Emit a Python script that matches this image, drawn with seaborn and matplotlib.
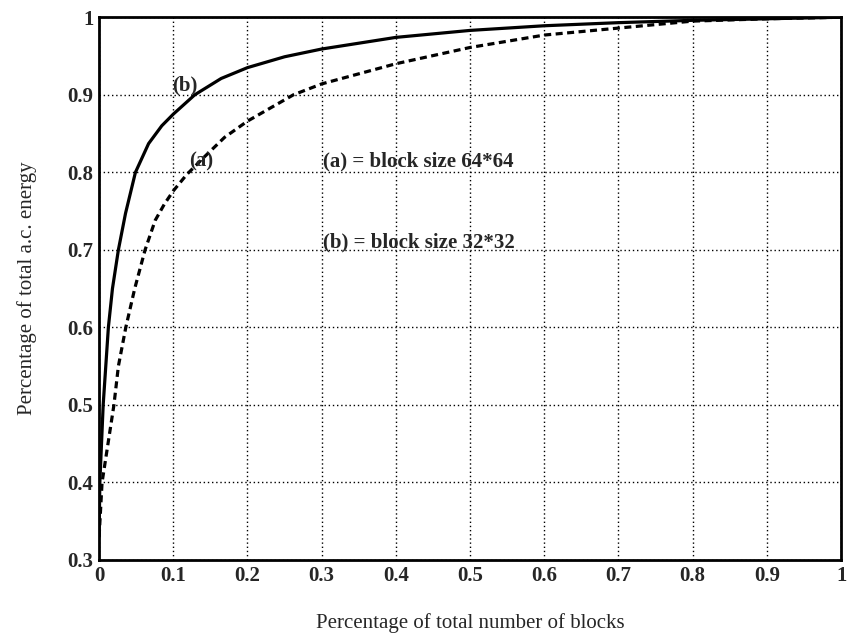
import matplotlib
matplotlib.use("Agg")
import matplotlib.pyplot as plt
import seaborn as sns
import pandas as pd

# Curve (b): block size 32*32 (solid)
x_b = [0.0, 0.001, 0.0055, 0.0125, 0.018, 0.026, 0.0356, 0.049, 0.0667, 0.0845, 0.1, 0.129,
       0.1645, 0.2, 0.25, 0.3, 0.4, 0.5, 0.6, 0.7, 0.8, 0.9, 1.0]
y_b = [0.33, 0.4, 0.5, 0.6, 0.65, 0.7, 0.747, 0.8, 0.837, 0.86, 0.875, 0.9,
       0.921, 0.935, 0.949, 0.959, 0.974, 0.983, 0.989, 0.993, 0.996, 0.998, 1.0]

# Curve (a): block size 64*64 (dashed)
x_a = [0.0, 0.004, 0.02, 0.026, 0.036, 0.048, 0.062, 0.0756, 0.088, 0.1, 0.118, 0.142, 0.169, 0.2,
       0.262, 0.3, 0.4, 0.5, 0.6, 0.7, 0.8, 0.9, 1.0]
y_a = [0.33, 0.4, 0.5, 0.55, 0.6, 0.65, 0.7, 0.738, 0.759, 0.776, 0.797, 0.82, 0.845, 0.866,
       0.9, 0.914, 0.94, 0.961, 0.977, 0.986, 0.995, 0.998, 1.0]

x_ticks = [0, 0.1, 0.2, 0.3, 0.4, 0.5, 0.6, 0.7, 0.8, 0.9, 1]
x_tick_labels = ["0", "0.1", "0.2", "0.3", "0.4", "0.5", "0.6", "0.7", "0.8", "0.9", "1"]
y_ticks = [0.3, 0.4, 0.5, 0.6, 0.7, 0.8, 0.9, 1]
y_tick_labels = ["0.3", "0.4", "0.5", "0.6", "0.7", "0.8", "0.9", "1"]

df_b = pd.DataFrame({"x": x_b, "y": y_b})
df_a = pd.DataFrame({"x": x_a, "y": y_a})

sns.set_style("white")
plt.rcParams["font.family"] = ["Liberation Serif", "DejaVu Serif"]

fig = plt.figure(figsize=(8.47, 6.38), dpi=100)
ax = fig.add_axes([0.117, 0.1223, 0.876, 0.8507])

sns.lineplot(data=df_b, x="x", y="y", ax=ax, color="black", linewidth=2.3, sort=False)
sns.lineplot(data=df_a, x="x", y="y", ax=ax, color="black", linewidth=2.3, sort=False,
             dashes=False, linestyle=(0, (2.2, 1.4)))

ax.set_xlim(0, 1)
ax.set_ylim(0.3, 1)
ax.set_xticks(x_ticks)
ax.set_xticklabels(x_tick_labels)
ax.set_yticks(y_ticks)
ax.set_yticklabels(y_tick_labels)
ax.tick_params(direction="in", length=4, width=1, labelsize=15, pad=4, color="black")
for lab in ax.get_xticklabels() + ax.get_yticklabels():
    lab.set_fontweight("bold")
ax.grid(True, linestyle=(0, (1, 2)), color="black", linewidth=1.0)
for s in ax.spines.values():
    s.set_color("black")
    s.set_linewidth(2.0)

ax.set_xlabel("Percentage of total number of blocks", fontsize=15, labelpad=20)
ax.set_ylabel("Percentage of total a.c. energy", fontsize=15, labelpad=22)

ax.text(0.116, 0.912, "(b)", fontsize=15, fontweight="bold", ha="center", va="center")
ax.text(0.137, 0.814, "(a)", fontsize=15, fontweight="bold", ha="center", va="center")
ax.text(0.302, 0.814, "(a) = block size 64*64", fontsize=15, fontweight="bold", ha="left", va="center")
ax.text(0.302, 0.710, "(b) = block size 32*32", fontsize=15, fontweight="bold", ha="left", va="center")

fig.savefig("out.png", dpi=100)
